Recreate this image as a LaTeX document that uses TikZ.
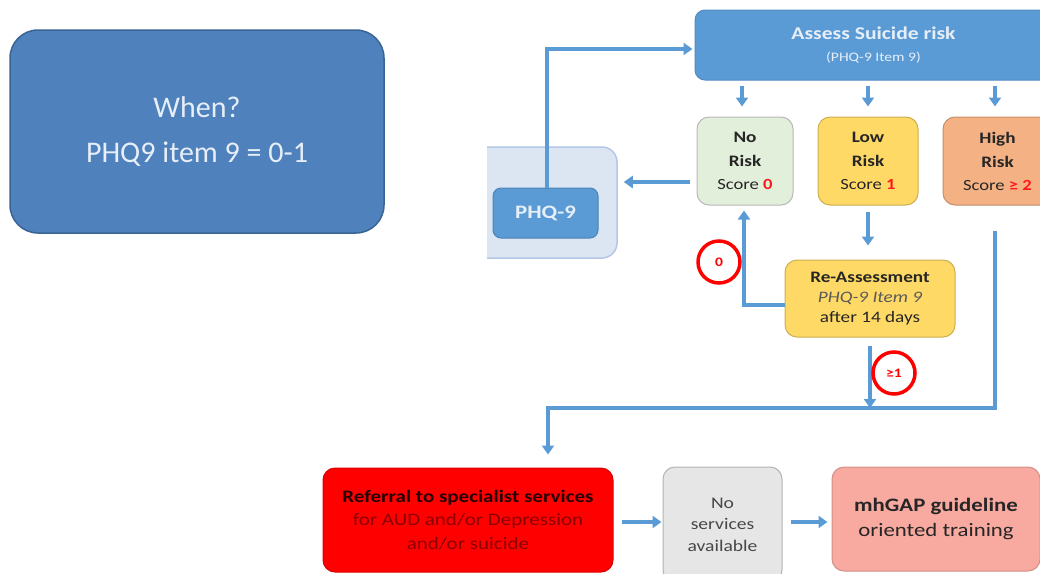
\documentclass[tikz,border=0pt]{standalone}
\usepackage{fontspec}
\setmainfont{Carlito}
\newfontfamily\wf[FakeStretch=1.2]{Carlito}
\usetikzlibrary{arrows.meta}
\definecolor{whenblue}{HTML}{4F81BD}
\definecolor{whenedge}{HTML}{3A6494}
\definecolor{flowblue}{HTML}{5B9BD5}
\definecolor{lightblue}{HTML}{DCE6F2}
\definecolor{panedge}{HTML}{B4C7E7}
\definecolor{nogreen}{HTML}{E2EFDA}
\definecolor{lowyel}{HTML}{FFD966}
\definecolor{highor}{HTML}{F4B183}
\definecolor{refred}{HTML}{FF0000}
\definecolor{nsgray}{HTML}{E7E6E6}
\definecolor{mhpink}{HTML}{F8A9A0}
\definecolor{txtwhite}{HTML}{E6EEF8}
\definecolor{darkred}{HTML}{8A0000}
\definecolor{scorered}{HTML}{FF1A1A}
\definecolor{darktxt}{HTML}{262626}
\begin{document}
\begin{tikzpicture}[x=1pt,y=-1pt,
  box/.style={rectangle, rounded corners=12pt, align=center, inner sep=0pt, line width=1pt},
  riskbox/.style={box, minimum height=88pt, text=darktxt, font=\wf\fontsize{16}{24}\selectfont\bfseries},
  conn/.style={draw=flowblue, line width=4pt, -{Triangle[width=12pt,length=9pt]}},
  ring/.style={circle, draw=refred, line width=3.5pt, fill=white, minimum size=42pt, inner sep=0pt,
    text=refred, font=\wf\fontsize{13}{15}\selectfont\bfseries}
]
\useasboundingbox (0,0) rectangle (1040,573);
\clip (0,0) rectangle (1040,573);

% left "When" box
\node[box, rounded corners=28pt, fill=whenblue, draw=whenedge, line width=1.5pt,
  minimum width=374pt, minimum height=203pt, text=txtwhite,
  font=\fontsize{30}{45}\selectfont] (when) at (197,131.5) {When?\\PHQ9 item 9 = 0-1};

% assess
\node[box, rounded corners=10pt, fill=flowblue, draw=flowblue!90!black,
  minimum width=357pt, minimum height=70pt, text=txtwhite,
  font=\wf\fontsize{18}{22}\selectfont\bfseries] (assess) at (873.5,45)
  {Assess Suicide risk\\\mdseries\fontsize{13}{20}\selectfont (PHQ-9 Item 9)};

% risk boxes
\node[riskbox, fill=nogreen, draw=black!28, minimum width=96pt] (norisk) at (745,161)
  {No\\Risk\\[-1pt]\mdseries\fontsize{15.5}{18}\selectfont Score {\bfseries\color{scorered}0}};
\node[riskbox, fill=lowyel, draw=lowyel!80!black, minimum width=100pt] (low) at (868,161)
  {Low\\Risk\\[-1pt]\mdseries\fontsize{15.5}{18}\selectfont Score {\bfseries\color{scorered}1}};
\node[riskbox, fill=highor, draw=highor!80!black, minimum width=109pt] (high) at (997.5,161)
  {High\\Risk\\[-1pt]\mdseries\fontsize{15.5}{18}\selectfont Score {\bfseries\color{scorered}≥ 2}};

% PHQ-9 panel
\begin{scope}
\clip (487,0) rectangle (700,300);
\node[box, rounded corners=15pt, fill=lightblue, draw=panedge, line width=1.5pt,
  minimum width=147pt, minimum height=111pt] (panel) at (543.5,202.5) {};
\end{scope}
\node[box, rounded corners=8pt, fill=flowblue, draw=flowblue!85!black,
  minimum width=105pt, minimum height=50pt, text=txtwhite,
  font=\wf\fontsize{19}{22}\selectfont\bfseries] (phq) at (545.5,213) {PHQ-9};

% re-assessment
\node[box, fill=lowyel, draw=lowyel!80!black, minimum width=170pt, minimum height=77pt,
  text=darktxt, font=\wf\fontsize{16}{20}\selectfont] (reassess) at (870,298.5)
  {{\bfseries Re-Assessment}\\{\itshape\color{black!65} PHQ-9 Item 9}\\after 14 days};

% bottom row
\node[box, fill=refred, draw=refred!85!black, minimum width=290pt, minimum height=104pt,
  font=\wf\fontsize{17.5}{23.5}\selectfont] (referral) at (468,520)
  {{\bfseries\color{black!85!red} Referral to specialist services}\\
   {\color{darkred}for AUD and/or Depression}\\{\color{darkred}and/or suicide}};
\node[box, fill=nsgray, draw=black!30, minimum width=119pt, minimum height=115pt,
  text=black!72, font=\wf\fontsize{16.3}{21.5}\selectfont] (noserv) at (722.5,524.5)
  {No\\services\\available};
\node[box, fill=mhpink, draw=mhpink!85!black, minimum width=208pt, minimum height=104pt,
  text=darktxt, font=\wf\fontsize{19}{25}\selectfont] (mhgap) at (936,519)
  {{\bfseries mhGAP guideline}\\oriented training};

% connectors
\coordinate (hl) at (548,408);
\draw[conn, shorten <=5pt, shorten >=10pt] ([xshift=-3pt]norisk.north |- assess.south) -- ([xshift=-3pt]norisk.north);
\draw[conn, shorten <=5pt, shorten >=10pt] (low.north |- assess.south) -- (low.north);
\draw[conn, shorten <=5pt, shorten >=10pt] ([xshift=-2.5pt]high.north |- assess.south) -- ([xshift=-2.5pt]high.north);
\draw[conn, shorten <=7pt, shorten >=6pt] ([yshift=-21pt]norisk.west) -- ([yshift=-21pt]norisk.west -| panel.east);
\draw[conn, shorten >=2pt] ([xshift=1.5pt]phq.north) |- ([yshift=-4pt]assess.west);
\draw[conn, shorten <=6pt, shorten >=14pt] (low.south) -- (low.south |- reassess.north);
\draw[conn, shorten >=5pt] ([yshift=-6.5pt]reassess.west) -| ([xshift=-1pt]norisk.south);
\draw[conn, shorten <=8pt] (reassess.south) -- (reassess.south |- hl);
\draw[conn, shorten <=25pt, shorten >=13pt] ([xshift=-2.5pt]high.south) |- (hl) -- (hl |- referral.north);
\draw[conn, shorten <=8pt, shorten >=1pt] ([yshift=-2pt]referral.east) -- ([yshift=-2pt]referral.east -| noserv.west);
\draw[conn, shorten <=8pt, shorten >=4pt] ([yshift=-2pt]noserv.east |- referral.east) -- ([yshift=-2pt]referral.east -| mhgap.west);

% red rings
\node[ring] (r0) at (719,262) {0};
\node[ring] (r1) at (894,373) {≥1};
\end{tikzpicture}
\end{document}
